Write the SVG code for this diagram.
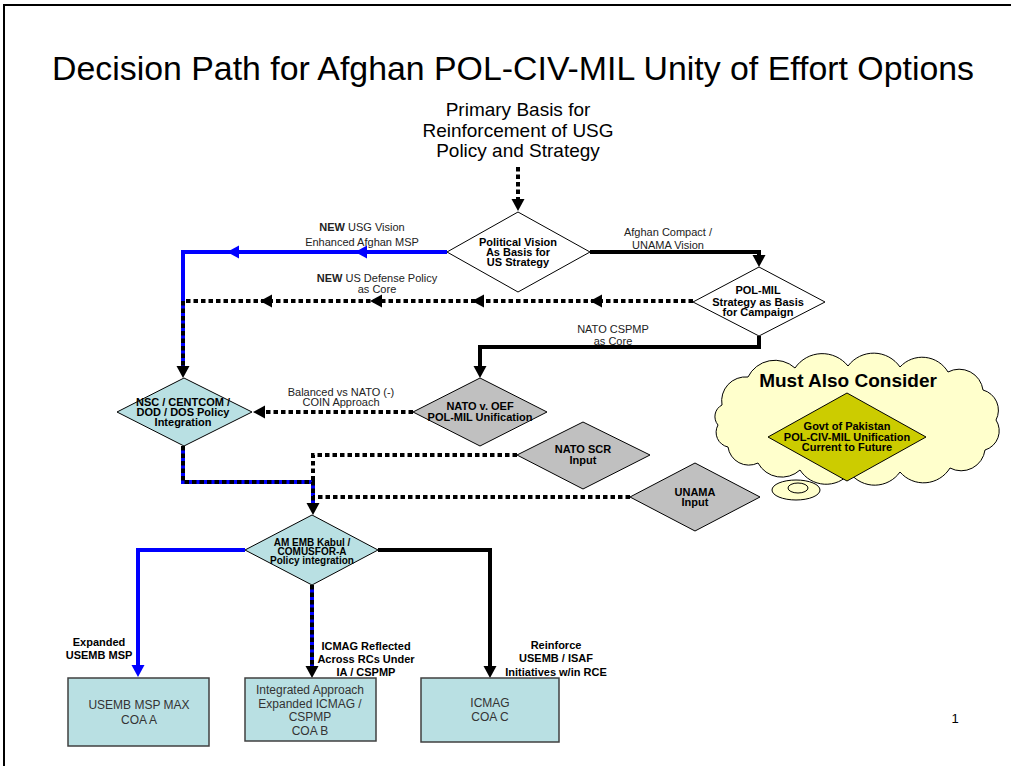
<svg xmlns="http://www.w3.org/2000/svg" xmlns:xlink="http://www.w3.org/1999/xlink" width="1011" height="766" viewBox="0 0 1011 766">
<style>
text{font-family:"Liberation Sans",Arial,Helvetica,sans-serif;text-anchor:middle;fill:#000}
.b{font-weight:bold;font-size:11px}
.b10{font-weight:bold;font-size:10px}
.n{font-size:11px;fill:#222}
.bx{font-size:12px;fill:#333}
.dia{stroke:#000;stroke-width:1}
.white{fill:#fff}
.cyan{fill:#B9E0E3}
.gray{fill:#C0C0C0}
.olive{fill:#CCCC00}
.box{fill:#B9E0E3;stroke:#404040;stroke-width:1.5}
.solid{fill:none;stroke:#000;stroke-width:4}
.blue{fill:none;stroke:#0000FF;stroke-width:4}
.dot{fill:none;stroke:#000;stroke-width:4;stroke-dasharray:4.5 3}
.ahk{fill:#000}
.ahb{fill:#0000FF}
</style>
<defs>
<path id="ar" d="M0,0 L-12,-6.5 L-12,6.5 Z"/>
</defs>
<rect x="0" y="0" width="1011" height="766" fill="#fff"/>
<path d="M4,766 L4,5 L1011,5" fill="none" stroke="#000" stroke-width="2"/>
<text x="513" y="80" style="font-size:33px" textLength="922" lengthAdjust="spacingAndGlyphs">Decision Path for Afghan POL-CIV-MIL Unity of Effort Options</text>
<g id="start">
<text x="518" y="116" style="font-size:19px">Primary Basis for</text>
<text x="518" y="136.5" style="font-size:19px">Reinforcement of USG</text>
<text x="518" y="157" style="font-size:19px">Policy and Strategy</text>
</g>
<g id="cloud">
<path d="M722,405 A24,24 0 0 1 748,377 A30,30 0 0 1 795,368 A33,33 0 0 1 848,366 A32,32 0 0 1 900,367 A30,30 0 0 1 948,372 A24,24 0 0 1 983,390 A21,21 0 0 1 996,420 A20,20 0 0 1 985,450 A24,24 0 0 1 950,468 A31,31 0 0 1 900,472 A31,31 0 0 1 850,473 A31,31 0 0 1 800,470 A27,27 0 0 1 758,463 A21,21 0 0 1 728,447 A15,15 0 0 1 718,425 A13,13 0 0 1 722,405 Z" fill="#FFFFCC" stroke="#000" stroke-width="1"/>
<ellipse cx="796" cy="490" rx="24" ry="10" fill="#FFFFCC" stroke="#000" stroke-width="1"/>
<ellipse cx="798" cy="488" rx="10" ry="5" fill="#FFFFCC" stroke="#000" stroke-width="1"/>
<text x="848" y="387" style="font-size:19px;font-weight:bold">Must Also Consider</text>
</g>
<g id="connectors">
<path class="dot" d="M518,167 L518,199"/>
<use xlink:href="#ar" class="ahk" transform="translate(518,211) rotate(90)"/>
<path class="solid" d="M590,252 L759,252 L759,256"/>
<use xlink:href="#ar" class="ahk" transform="translate(759,267) rotate(90)"/>
<path class="blue" d="M447,252 L183,252 L183,366"/>
<use xlink:href="#ar" class="ahb" transform="translate(227,252) rotate(180)"/>
<use xlink:href="#ar" class="ahb" transform="translate(355,252) rotate(180)"/>
<path class="dot" d="M693,301 L183,301 L183,366"/>
<use xlink:href="#ar" class="ahk" transform="translate(260,301) rotate(180)"/>
<use xlink:href="#ar" class="ahk" transform="translate(370,301) rotate(180)"/>
<use xlink:href="#ar" class="ahk" transform="translate(472,301) rotate(180)"/>
<use xlink:href="#ar" class="ahk" transform="translate(590,301) rotate(180)"/>
<use xlink:href="#ar" class="ahk" transform="translate(183,378) rotate(90)"/>
<path class="solid" d="M759,336 L759,347 L480,347 L480,367"/>
<use xlink:href="#ar" class="ahk" transform="translate(480,378) rotate(90)"/>
<path class="dot" d="M413,412 L264,412"/>
<use xlink:href="#ar" class="ahk" transform="translate(253,412) rotate(180)"/>
<path class="blue" d="M183,446 L183,482 L313,482 L313,504"/>
<path class="dot" d="M183,446 L183,482 L313,482 L313,504"/>
<path class="dot" d="M517,455 L313,455 L313,482"/>
<path class="dot" d="M630,497 L313,497"/>
<use xlink:href="#ar" class="ahk" transform="translate(313,515) rotate(90)"/>
<path class="blue" d="M245,550 L138,550 L138,666"/>
<use xlink:href="#ar" class="ahb" transform="translate(138,677) rotate(90)"/>
<path class="blue" d="M312,585 L312,667"/>
<path class="dot" d="M312,585 L312,667"/>
<use xlink:href="#ar" class="ahk" transform="translate(312,678) rotate(90)"/>
<path class="solid" d="M378,550 L490,550 L490,667"/>
<use xlink:href="#ar" class="ahk" transform="translate(490,678) rotate(90)"/>
</g>
<g id="labels">
<text x="362" y="231" class="n"><tspan font-weight="bold">NEW</tspan> USG Vision</text>
<text x="362" y="246" class="n">Enhanced Afghan MSP</text>
<text x="377" y="282" class="n"><tspan font-weight="bold">NEW</tspan> US Defense Policy</text>
<text x="377" y="293" class="n">as  Core</text>
<text x="668" y="236" class="n">Afghan Compact /</text>
<text x="668" y="249" class="n">UNAMA  Vision</text>
<text x="613" y="333" class="n">NATO CSPMP</text>
<text x="613" y="345" class="n">as Core</text>
<text x="341" y="396" class="n">Balanced vs NATO (-)</text>
<text x="341" y="406" class="n">COIN Approach</text>
<text x="99" y="646" class="b">Expanded</text>
<text x="99" y="659" class="b">USEMB MSP</text>
<text x="366" y="650" class="b">ICMAG Reflected</text>
<text x="366" y="663" class="b">Across RCs Under</text>
<text x="366" y="676" class="b">IA / CSPMP</text>
<text x="556" y="649" class="b">Reinforce</text>
<text x="556" y="662" class="b">USEMB /  ISAF</text>
<text x="556" y="676" class="b">Initiatives w/in RCE</text>
<text x="955" y="723" style="font-size:13px">1</text>
</g>
<g id="political-vision">
<polygon class="dia white" points="518,212 590,252 518,292 447,252"/>
<text x="518" y="246" class="b">Political Vision</text>
<text x="518" y="256" class="b">As Basis for</text>
<text x="518" y="266" class="b">US Strategy</text>
</g>
<g id="pol-mil-strategy">
<polygon class="dia white" points="759,267 825,302 759,336 693,302"/>
<text x="758" y="294" class="b">POL-MIL</text>
<text x="758" y="305.5" class="b">Strategy as Basis</text>
<text x="758" y="316" class="b">for Campaign</text>
</g>
<g id="nsc-centcom">
<polygon class="dia cyan" points="184,378 252,412 184,446 117,412"/>
<text x="183" y="406" class="b">NSC / CENTCOM /</text>
<text x="183" y="416" class="b">DOD / DOS Policy</text>
<text x="183" y="426" class="b">Integration</text>
</g>
<g id="nato-oef">
<polygon class="dia gray" points="480,378 547,412 480,446 413,412"/>
<text x="480" y="410" class="b">NATO v. OEF</text>
<text x="480" y="421" class="b">POL-MIL Unification</text>
</g>
<g id="nato-scr">
<polygon class="dia gray" points="583,422 650,455 583,489 517,455"/>
<text x="583" y="453" class="b">NATO SCR</text>
<text x="583" y="464" class="b">Input</text>
</g>
<g id="unama">
<polygon class="dia gray" points="695,463 760,497 695,531 630,497"/>
<text x="695" y="496" class="b">UNAMA</text>
<text x="695" y="506" class="b">Input</text>
</g>
<g id="pakistan">
<polygon class="dia olive" points="847,393 926,437 847,481 768,437"/>
<text x="847" y="430" class="b">Govt of Pakistan</text>
<text x="847" y="441" class="b">POL-CIV-MIL Unification</text>
<text x="847" y="451" class="b">Current to Future</text>
</g>
<g id="am-emb">
<polygon class="dia cyan" points="312,515 378,550 312,585 245,550"/>
<text x="312" y="546" class="b10">AM EMB Kabul /</text>
<text x="312" y="555" class="b10">COMUSFOR-A</text>
<text x="312" y="564" class="b10">Policy integration</text>
</g>
<g id="coa-a">
<rect class="box" x="68" y="678" width="141" height="68"/>
<text x="139" y="709" class="bx">USEMB MSP MAX</text>
<text x="139" y="724" class="bx">COA A</text>
</g>
<g id="coa-b">
<rect class="box" x="245" y="678" width="131" height="63"/>
<text x="310" y="694" class="bx">Integrated Approach</text>
<text x="310" y="708" class="bx">Expanded ICMAG /</text>
<text x="310" y="721" class="bx">CSPMP</text>
<text x="310" y="735" class="bx">COA B</text>
</g>
<g id="coa-c">
<rect class="box" x="421" y="678" width="138" height="64"/>
<text x="490" y="707" class="bx">ICMAG</text>
<text x="490" y="721" class="bx">COA C</text>
</g>
</svg>
